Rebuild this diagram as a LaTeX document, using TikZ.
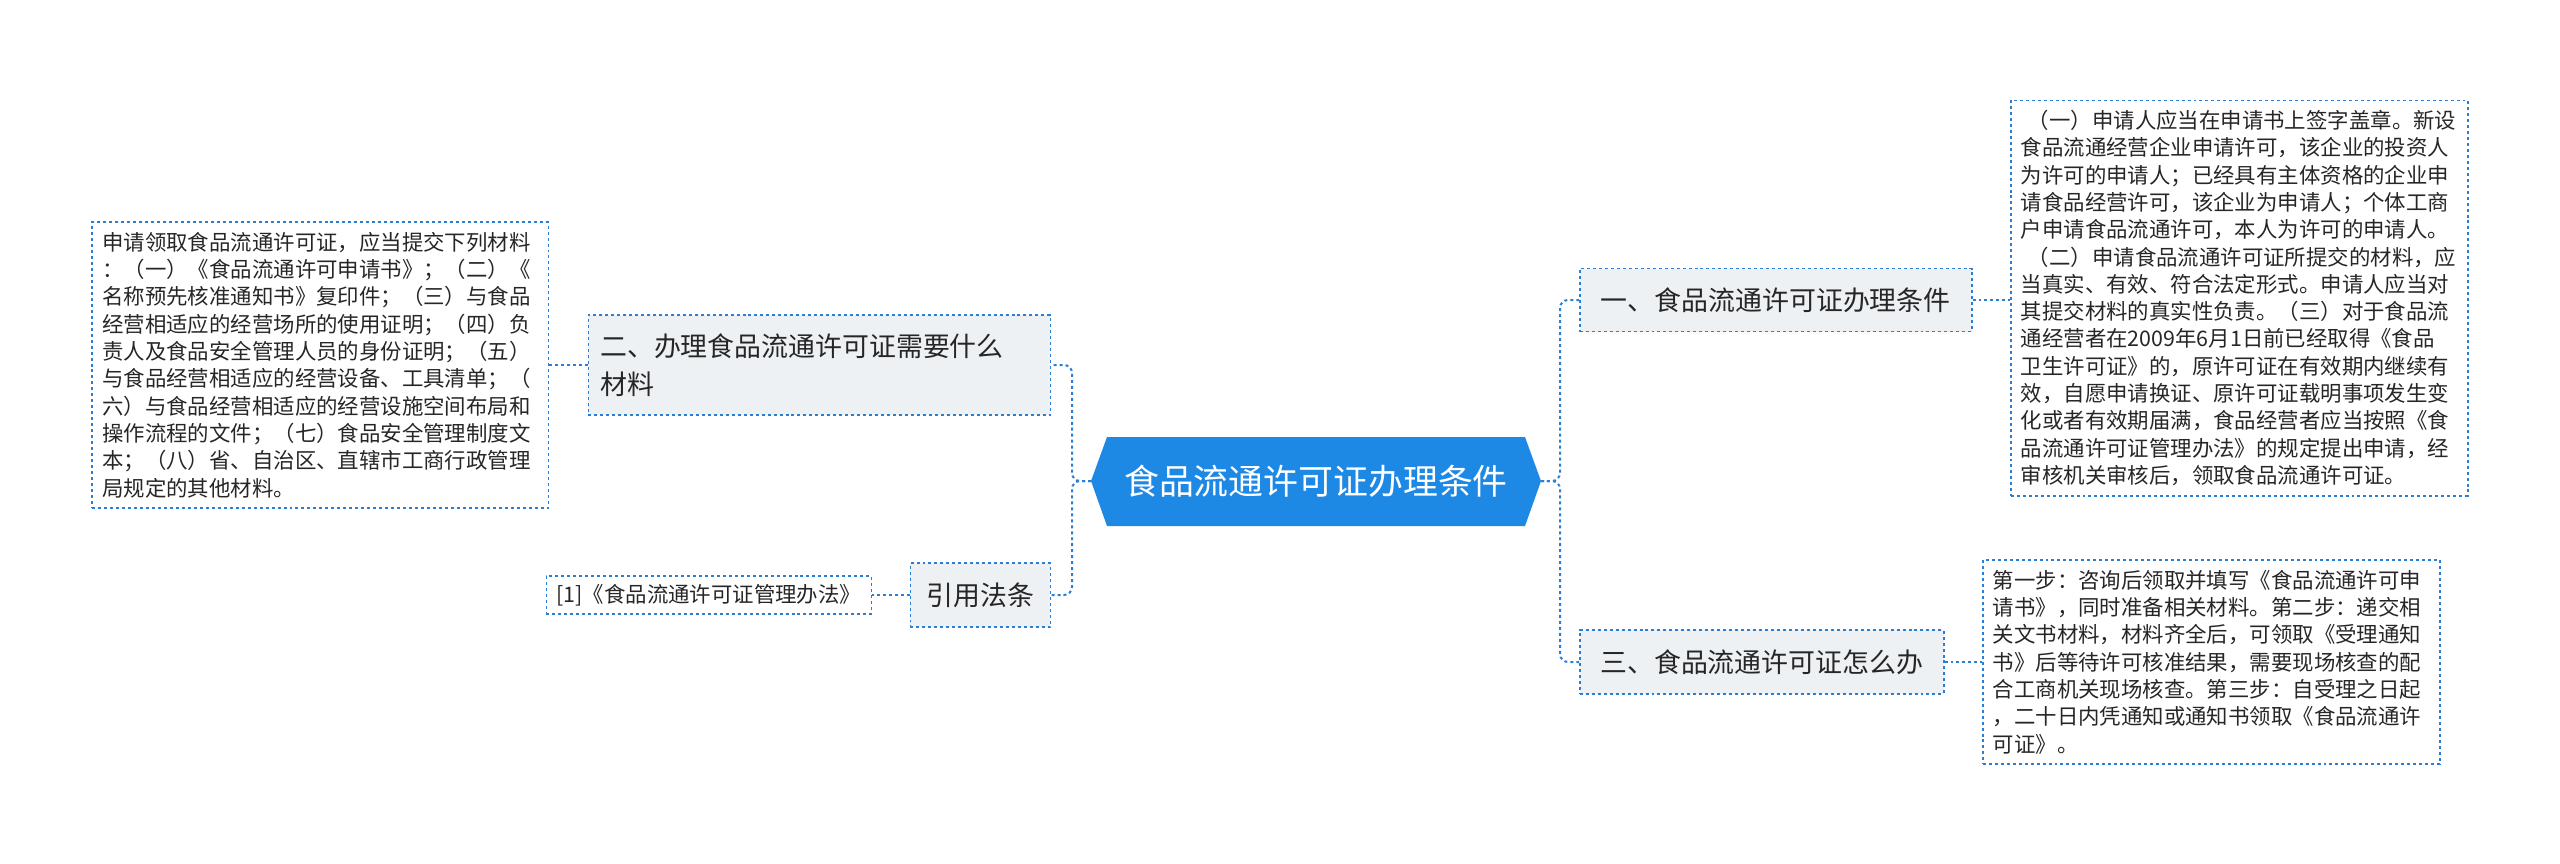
\documentclass[tikz,border=0pt]{standalone}
\usepackage{fontspec}
\setmainfont{Noto Sans CJK SC}
\usetikzlibrary{positioning}
\definecolor{mapblue}{HTML}{1E88E5}
\definecolor{edgeblue}{HTML}{2A7FD4}
\definecolor{boxgray}{HTML}{EEF1F4}
\tikzset{
  topic/.style={draw=edgeblue,dashed,line width=1.5bp,fill=boxgray,inner xsep=12bp,inner ysep=8bp,
    align=left,font=\fontsize{27}{38}\selectfont,text=black!85},
  leaf/.style={draw=edgeblue,dashed,line width=1.5bp,inner xsep=10bp,inner ysep=10bp,align=left,
    font=\fontsize{21.5}{27.4}\selectfont,text=black!85},
  link/.style={draw=edgeblue,dashed,line width=2bp,rounded corners=8bp}
}
\begin{document}
\begin{tikzpicture}[x=1bp,y=-1bp]
\useasboundingbox (0,0) rectangle (2560,863);
% centre
\fill[mapblue] (1091,481) -- (1107,437) -- (1525,437) -- (1541,481) -- (1525,526) -- (1107,526) -- cycle;
\node[text=white,font=\fontsize{35}{40}\selectfont] (root) at (1316,481) {食品流通许可证办理条件};
\coordinate (rootR) at (1541,481);
\coordinate (rootL) at (1091,481);
% topics
\node[topic,minimum width=392bp,minimum height=63bp,anchor=west] (t1) at (1579,300) {一、食品流通许可证办理条件};
\node[topic,minimum width=364bp,minimum height=64bp,anchor=west] (t3) at (1579,662) {三、食品流通许可证怎么办};
\node[topic,text width=438bp,minimum height=100bp,anchor=east,inner xsep=12bp] (t2) at (1051,365)
  {二、办理食品流通许可证需要什么\\材料};
\node[topic,minimum width=140bp,minimum height=64bp,anchor=east] (law) at (1051,595) {引用法条};
% leaves
\node[leaf,anchor=west,text width=437bp,inner xsep=10bp] (l1) at (2010,298)
  {\ （一）申请人应当在申请书上签字盖章。新设\\食品流通经营企业申请许可，该企业的投资人\\为许可的申请人；已经具有主体资格的企业申\\请食品经营许可，该企业为申请人；个体工商\\户申请食品流通许可，本人为许可的申请人。\\\ （二）申请食品流通许可证所提交的材料，应\\当真实、有效、符合法定形式。申请人应当对\\其提交材料的真实性负责。（三）对于食品流\\通经营者在2009年6月1日前已经取得《食品\\卫生许可证》的，原许可证在有效期内继续有\\效，自愿申请换证、原许可证载明事项发生变\\化或者有效期届满，食品经营者应当按照《食\\品流通许可证管理办法》的规定提出申请，经\\审核机关审核后，领取食品流通许可证。};
\node[leaf,anchor=west,text width=437bp] (l3) at (1982,662)
  {第一步：咨询后领取并填写《食品流通许可申\\请书》，同时准备相关材料。第二步：递交相\\关文书材料，材料齐全后，可领取《受理通知\\书》后等待许可核准结果，需要现场核查的配\\合工商机关现场核查。第三步：自受理之日起\\，二十日内凭通知或通知书领取《食品流通许\\可证》。};
\node[leaf,anchor=east,text width=436bp] (l2) at (549,365)
  {申请领取食品流通许可证，应当提交下列材料\\：（一）《食品流通许可申请书》；（二）《\\名称预先核准通知书》复印件；（三）与食品\\经营相适应的经营场所的使用证明；（四）负\\责人及食品安全管理人员的身份证明；（五）\\与食品经营相适应的经营设备、工具清单；（\\六）与食品经营相适应的经营设施空间布局和\\操作流程的文件；（七）食品安全管理制度文\\本；（八）省、自治区、直辖市工商行政管理\\局规定的其他材料。};
\node[leaf,anchor=east,inner ysep=8bp] (ref) at (872,595) {[1]《食品流通许可证管理办法》};
% connectors
\draw[link] (rootR) -- (1560,481) |- (t1.west);
\draw[link] (rootR) -- (1560,481) |- (t3.west);
\draw[link] (rootL) -- (1072,481) |- (t2.east);
\draw[link] (rootL) -- (1072,481) |- (law.east);
\draw[link] (t1.east) -- (l1.west |- t1.east);
\draw[link] (t3.east) -- (l3.west |- t3.east);
\draw[link] (t2.west) -- (l2.east |- t2.west);
\draw[link] (law.west) -- (ref.east);
\end{tikzpicture}
\end{document}
